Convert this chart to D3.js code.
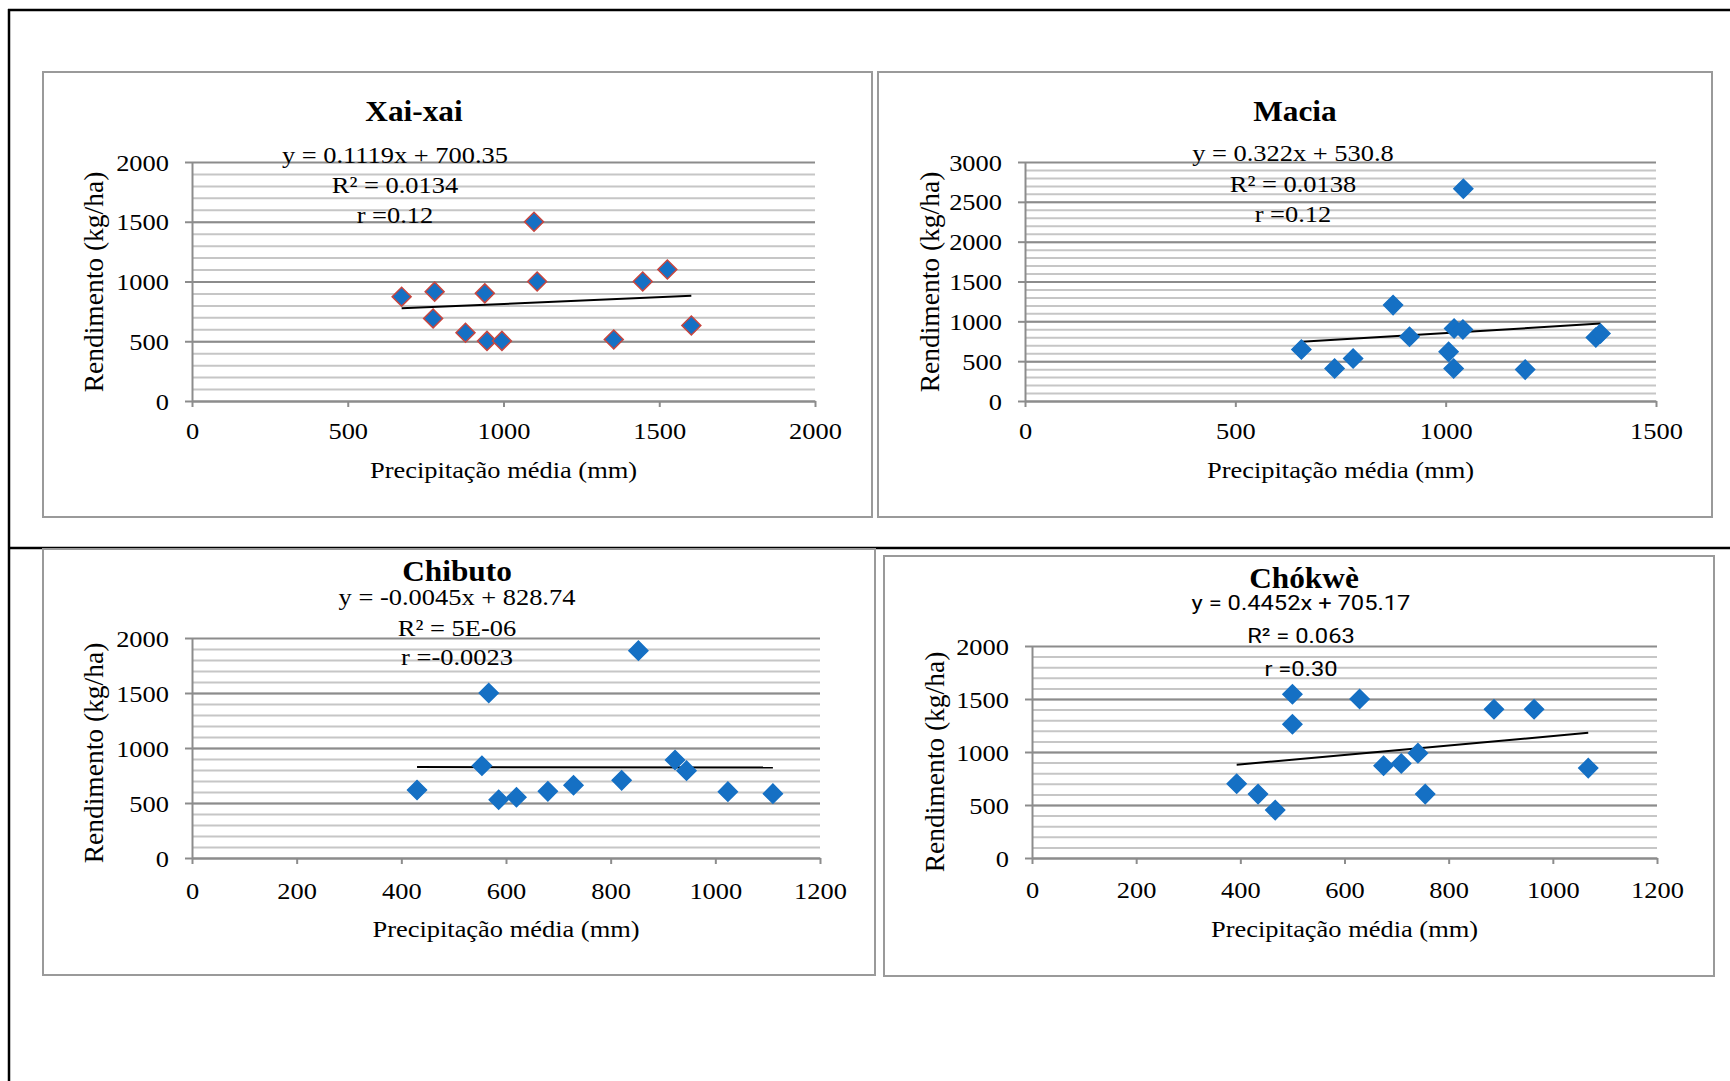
<!DOCTYPE html>
<html>
<head>
<meta charset="utf-8">
<script src="https://cdn.jsdelivr.net/npm/d3@7"></script>
<style>
  body { margin: 0; background: #fff; }
  svg { display: block; }
</style>
</head>
<body>
<div id="chart"></div>
<script>
// dados (precipitação média mm / rendimento kg/ha)
const xaiRain  = [673, 779, 774, 878, 940, 947, 995, 1098, 1108, 1354, 1447, 1526, 1603];
const xaiYield = [873, 915, 691, 571, 901, 503, 503, 1500, 1000, 515, 1000, 1100, 632];
const xaiTrend = [0.1119, 700.35];
const xaiNotes = ['y = 0.1119x + 700.35', 'R² = 0.0134', 'r =0.12'];

const maciaRain  = [1042, 875, 1020, 1041, 914, 657, 736, 780, 1007, 1019, 1189, 1357, 1368];
const maciaYield = [2664, 1204, 910, 898, 806, 646, 407, 533, 617, 407, 394, 797, 848];
const maciaTrend = [0.322, 530.8];
const maciaNotes = ['y = 0.322x + 530.8', 'R² = 0.0138', 'r =0.12'];

const chibutoRain  = [430, 554, 567, 586, 620, 680, 729, 821, 853, 923, 945, 1024, 1110];
const chibutoYield = [618, 839, 1500, 530, 552, 606, 661, 706, 1885, 891, 794, 603, 585];
const chibutoTrend = [-0.0045, 828.74];
const chibutoNotes = ['y = -0.0045x + 828.74', 'R² = 5E-06', 'r =-0.0023'];

const chokweRain  = [393, 434, 467, 500, 500, 629, 675, 709, 741, 755, 887, 964, 1068];
const chokweYield = [700, 603, 452, 1545, 1262, 1500, 870, 892, 989, 603, 1403, 1403, 848];
const chokweTrend = [0.4452, 705.17];
const chokweNotes = ['y = 0.4452x + 705.17', 'R² = 0.063', 'r =0.30'];

// eixos
const xTicks2000 = [0, 500, 1000, 1500, 2000];
const xTicks1500 = [0, 500, 1000, 1500];
const xTicks1200 = [0, 200, 400, 600, 800, 1000, 1200];
const yTicks2000 = [0, 500, 1000, 1500, 2000];
const yTicks3000 = [0, 500, 1000, 1500, 2000, 2500, 3000];

const titles = ['Xai-xai', 'Macia', 'Chibuto', 'Chókwè'];
const xAxisLabel = 'Precipitação média (mm)';
const yAxisLabel = 'Rendimento (kg/ha)';

// estilo
const SERIF = '"Liberation Serif", "Times New Roman", serif';
const SANS = 'Roboto, "Liberation Sans", sans-serif';
const SX = 1.15;          // o texto do original está esticado na horizontal
const BLUE = '#1570c4';
const fmt = d3.format('d');

// layout de cada painel (box = x,y,w,h ; plot = left,top,right,bottom)
const panels = [
    { title: titles[0], rain: xaiRain, yld: xaiYield, trend: xaiTrend, notes: xaiNotes,
      xTicks: xTicks2000, yTicks: yTicks2000, outline: '#c8463f', noteFont: SERIF,
      box: [43, 72, 829, 445], plot: [192, 162, 815, 401], titlePos: [414, 121],
      noteX: 395, noteY: [163, 193, 223], yTitleX: 93, yTitleY: 282, xLabelY: 439, xTitleY: 478 },
    { title: titles[1], rain: maciaRain, yld: maciaYield, trend: maciaTrend, notes: maciaNotes,
      xTicks: xTicks1500, yTicks: yTicks3000, outline: BLUE, noteFont: SERIF,
      box: [878, 72, 834, 445], plot: [1025, 162, 1656, 401], titlePos: [1295, 121],
      noteX: 1293, noteY: [161, 192, 222], yTitleX: 929, yTitleY: 282, xLabelY: 439, xTitleY: 478 },
    { title: titles[2], rain: chibutoRain, yld: chibutoYield, trend: chibutoTrend, notes: chibutoNotes,
      xTicks: xTicks1200, yTicks: yTicks2000, outline: BLUE, noteFont: SERIF,
      box: [43, 549, 832, 426], plot: [192, 638, 820, 858], titlePos: [457, 581],
      noteX: 457, noteY: [605, 636, 665], yTitleX: 93, yTitleY: 753, xLabelY: 899, xTitleY: 937 },
    { title: titles[3], rain: chokweRain, yld: chokweYield, trend: chokweTrend, notes: chokweNotes,
      xTicks: xTicks1200, yTicks: yTicks2000, outline: BLUE, noteFont: SANS,
      box: [884, 556, 830, 420], plot: [1032, 646, 1657, 858], titlePos: [1304, 588],
      noteX: 1301, noteY: [610, 643, 676], yTitleX: 934, yTitleY: 762, xLabelY: 898, xTitleY: 937 }
];

const svg = d3.select('#chart').append('svg')
    .attr('width', 1730).attr('height', 1081);

// linhas da tabela
const table = svg.append('g').attr('stroke', '#000').attr('stroke-width', 2.5);
table.append('line').attr('x1', 8).attr('x2', 1730).attr('y1', 10).attr('y2', 10);
table.append('line').attr('x1', 9).attr('x2', 9).attr('y1', 9).attr('y2', 1081);
table.append('line').attr('x1', 8).attr('x2', 1730).attr('y1', 548).attr('y2', 548);

function addText(g, str, x, y, o) {
    return g.append('text')
        .attr('transform', `translate(${x},${y}) scale(${o.sx || 1},1)`)
        .attr('text-anchor', o.anchor || 'middle')
        .style('font-family', o.family || SERIF)
        .style('font-size', o.size + 'px')
        .style('font-weight', o.weight || 'normal')
        .style('fill', '#000')
        .text(str);
}

function drawPanel(p) {
    const g = svg.append('g');
    const [l, t, r, b] = p.plot;
    const yMax = d3.max(p.yTicks);

    g.append('rect')
        .attr('x', p.box[0]).attr('y', p.box[1])
        .attr('width', p.box[2]).attr('height', p.box[3])
        .attr('fill', '#fff').attr('stroke', '#9a9a9a').attr('stroke-width', 2);

    const x = d3.scaleLinear().domain([0, d3.max(p.xTicks)]).range([l, r]);
    const y = d3.scaleLinear().domain([0, yMax]).range([b, t]);

    // grade menor (cada 100) e maior (cada 500)
    g.append('g').attr('transform', `translate(${l},0)`)
        .call(d3.axisLeft(y).tickValues(d3.range(100, yMax, 100)).tickSize(-(r - l)).tickFormat(''))
        .call(a => a.select('.domain').remove())
        .selectAll('line').attr('stroke', '#c6c6c6').attr('stroke-width', 2);
    g.append('g').attr('transform', `translate(${l},0)`)
        .call(d3.axisLeft(y).tickValues(p.yTicks).tickSize(-(r - l)).tickFormat(''))
        .call(a => a.select('.domain').remove())
        .selectAll('line').attr('stroke', '#8c8c8c').attr('stroke-width', 2);

    // eixo Y
    const yAxis = g.append('g').attr('transform', `translate(${l},0)`)
        .call(d3.axisLeft(y).tickValues(p.yTicks).tickFormat(fmt).tickSize(7).tickSizeOuter(0))
        .attr('font-family', SERIF).attr('font-size', 23);
    yAxis.selectAll('path, line').attr('stroke', '#8c8c8c').attr('stroke-width', 2);
    yAxis.selectAll('text')
        .attr('x', -23 / SX).attr('dy', '0.35em')
        .attr('transform', `scale(${SX},1)`).attr('fill', '#000');

    // eixo X
    const xAxis = g.append('g').attr('transform', `translate(0,${b})`)
        .call(d3.axisBottom(x).tickValues(p.xTicks).tickFormat(fmt).tickSize(6).tickSizeOuter(0))
        .attr('font-family', SERIF).attr('font-size', 23);
    xAxis.selectAll('path, line').attr('stroke', '#8c8c8c').attr('stroke-width', 2);
    xAxis.selectAll('text')
        .attr('y', p.xLabelY - b).attr('dy', 0)
        .attr('transform', `scale(${SX},1)`).attr('fill', '#000');

    // linha de tendência (do menor ao maior x)
    const ext = d3.extent(p.rain);
    const trendPts = ext.map(v => [v, p.trend[0] * v + p.trend[1]]);
    g.append('path')
        .attr('d', d3.line().x(d => x(d[0])).y(d => y(d[1]))(trendPts))
        .attr('stroke', '#000').attr('stroke-width', 2).attr('fill', 'none');

    // pontos (losangos)
    const diamond = d3.symbol().type(d3.symbolSquare).size(180);
    g.append('g').selectAll('path')
        .data(p.rain.map((v, i) => [v, p.yld[i]]))
        .join('path')
        .attr('d', diamond)
        .attr('transform', d => `translate(${x(d[0])},${y(d[1])}) rotate(45)`)
        .attr('fill', BLUE)
        .attr('stroke', p.outline)
        .attr('stroke-width', 1.5);

    // títulos e anotações
    addText(g, p.title, p.titlePos[0], p.titlePos[1], { size: 29, weight: 'bold', sx: 1.08 });
    p.notes.forEach((s, i) => {
        if (p.noteFont === SANS) {
            addText(g, s, p.noteX, p.noteY[i], { size: 21, family: SANS, sx: 1.13 });
        } else {
            addText(g, s, p.noteX, p.noteY[i], { size: 23, sx: SX });
        }
    });
    addText(g, xAxisLabel, (l + r) / 2, p.xTitleY, { size: 23, sx: SX });
    g.append('text')
        .attr('transform', `translate(${p.yTitleX},${p.yTitleY}) rotate(-90)`)
        .attr('text-anchor', 'middle').attr('dy', '0.35em')
        .style('font-family', SERIF).style('font-size', '27.5px')
        .text(yAxisLabel);
}

panels.forEach(drawPanel);
</script>
</body>
</html>
